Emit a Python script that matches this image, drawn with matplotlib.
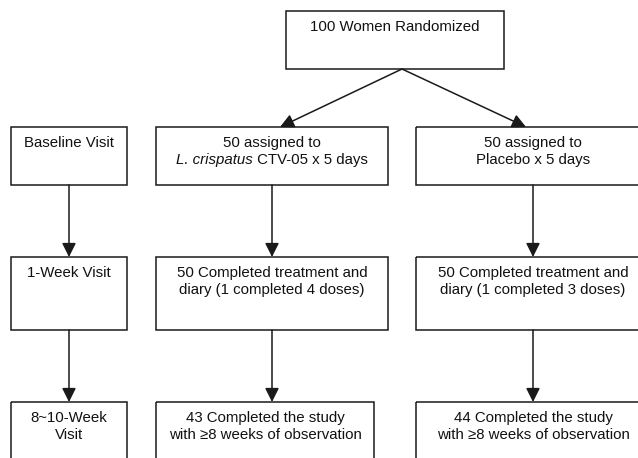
import matplotlib
matplotlib.use('Agg')
import matplotlib.pyplot as plt
from matplotlib.patches import Rectangle

plt.rcParams['font.family'] = ['Liberation Sans', 'DejaVu Sans']

# text of each box (lines); a line given as a list of (text, style) parts is mixed style
top_label = ['100 Women Randomized']
visit_labels = [['Baseline Visit'], ['1-Week Visit'], ['8~10-Week', 'Visit']]
active_labels = [['50 assigned to', [('L. crispatus', 'italic'), (' CTV-05 x 5 days', 'normal')]],
                 ['50 Completed treatment and', 'diary (1 completed 4 doses)'],
                 ['43 Completed the study', 'with \u22658 weeks of observation']]
placebo_labels = [['50 assigned to', 'Placebo x 5 days'],
                  ['50 Completed treatment and', 'diary (1 completed 3 doses)'],
                  ['44 Completed the study', 'with \u22658 weeks of observation']]

# layout in pixel coords
row_y = [(127, 185), (257, 330), (402, 470)]
visit_x = [(11, 127)] * 3
active_x = [(156, 388), (156, 388), (156, 374)]
placebo_x = [(416, 650)] * 3
top_box = (286, 11, 504, 69)

fig = plt.figure(figsize=(6.38, 4.58), dpi=100)
ax = fig.add_axes([0, 0, 1, 1])
ax.set_xlim(0, 638)
ax.set_ylim(458, 0)
ax.axis('off')
renderer = fig.canvas.get_renderer()

lc = '#1a1a1a'
fs = 10.8


def mixed_line(cx, y, parts):
    # draw pieces hidden first to measure, then place them side by side
    widths = []
    for s, st in parts:
        t = ax.text(0, 0, s, fontsize=fs, style=st)
        widths.append(t.get_window_extent(renderer).width)
        t.remove()
    x = cx - sum(widths) / 2
    for (s, st), w in zip(parts, widths):
        ax.text(x, y, s, ha='left', va='center', fontsize=fs, style=st,
                color='#111111')
        x += w


def box(x0, y0, x1, y1, lines):
    ax.add_patch(Rectangle((x0, y0), x1 - x0, y1 - y0, fill=False,
                           edgecolor=lc, linewidth=1.1))
    cx = (x0 + x1) / 2
    for i, s in enumerate(lines):
        y = y0 + 16 + i * 17
        if isinstance(s, list):
            mixed_line(cx, y, s)
        else:
            ax.text(cx, y, s, ha='center', va='center',
                    fontsize=fs, color='#111111')


def arrow(x0, y0, x1, y1):
    ax.annotate('', xy=(x1, y1), xytext=(x0, y0),
                arrowprops=dict(arrowstyle='-|>', color=lc, lw=1.1,
                                mutation_scale=21, shrinkA=0, shrinkB=0))


box(*top_box, top_label)
for i in range(3):
    y0, y1 = row_y[i]
    box(visit_x[i][0], y0, visit_x[i][1], y1, visit_labels[i])
    box(active_x[i][0], y0, active_x[i][1], y1, active_labels[i])
    box(placebo_x[i][0], y0, placebo_x[i][1], y1, placebo_labels[i])

arrow(402, 69, 280, 127)
arrow(402, 69, 526, 127)
for x in [69, 272, 533]:
    arrow(x, 185, x, 257)
    arrow(x, 330, x, 402)

fig.savefig('out.png', dpi=100)
